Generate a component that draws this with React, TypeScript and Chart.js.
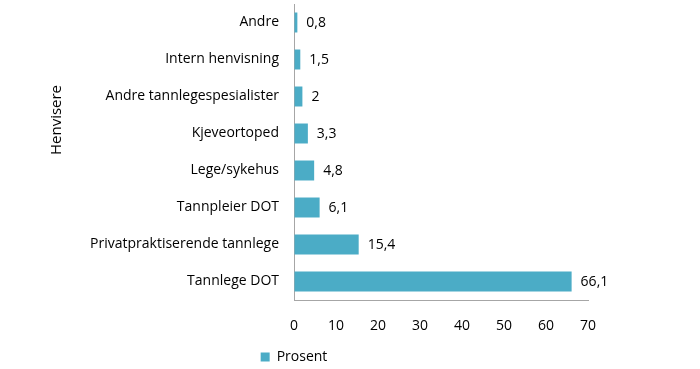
import React, { useEffect, useRef } from "react";
import { Chart, registerables } from "chart.js";

Chart.register(...registerables);

const categories = [
  "Andre",
  "Intern henvisning",
  "Andre tannlegespesialister",
  "Kjeveortoped",
  "Lege/sykehus",
  "Tannpleier DOT",
  "Privatpraktiserende tannlege",
  "Tannlege DOT",
];
const prosent = [0.8, 1.5, 2, 3.3, 4.8, 6.1, 15.4, 66.1];
const seriesName = "Prosent";
const axisTitle = "Henvisere";

const FONT = "'Open Sans', sans-serif";
const FS = 14;
const BAR = "#4BACC6";
const AXIS = "#A6A6A6";

const extras = {
  id: "extras",
  afterDatasetsDraw(chart: any) {
    const ctx = chart.ctx;
    const meta = chart.getDatasetMeta(0);
    ctx.save();
    ctx.font = `${FS}px ${FONT}`;
    ctx.fillStyle = "#000";
    ctx.textAlign = "left";
    ctx.textBaseline = "middle";
    meta.data.forEach((el: any, i: number) => {
      const v = chart.data.datasets[0].data[i];
      ctx.fillText(String(v).replace(".", ","), el.x + 9, el.y + 1);
    });
    ctx.translate(57, 120);
    ctx.rotate(-Math.PI / 2);
    ctx.textAlign = "center";
    ctx.font = `15px ${FONT}`;
    ctx.fillText(axisTitle, 0, 0);
    ctx.restore();
  },
};

export default function App() {
  const ref = useRef<HTMLCanvasElement>(null);
  useEffect(() => {
    if (!ref.current) return;
    const chart = new Chart(ref.current, {
      type: "bar",
      data: {
        labels: categories,
        datasets: [
          {
            label: seriesName,
            data: prosent,
            backgroundColor: BAR,
            borderWidth: 0,
            categoryPercentage: 1,
            barPercentage: 0.54,
          },
        ],
      },
      options: {
        indexAxis: "y",
        animation: false,
        responsive: false,
        layout: { padding: { top: 4, right: 112, left: 0, bottom: -5 } },
        plugins: {
          tooltip: { enabled: false },
          legend: {
            position: "bottom",
            labels: {
              font: { family: FONT, size: FS },
              color: "#000",
              boxWidth: 9,
              boxHeight: 9,
              padding: 0,
            },
          },
        },
        scales: {
          x: {
            min: 0,
            max: 70,
            ticks: {
              stepSize: 10,
              font: { family: FONT, size: FS },
              color: "#000",
              padding: 18,
            },
            grid: { display: true, drawOnChartArea: false, drawTicks: false },
            border: { display: true, color: AXIS, width: 1 },
            afterFit: (s: any) => {
              s.height = 50;
              s.paddingLeft = 0;
              s.paddingRight = 0;
            },
          },
          y: {
            ticks: {
              font: { family: FONT, size: FS },
              color: "#000",
              padding: 15,
              autoSkip: false,
            },
            grid: { display: true, drawOnChartArea: false, drawTicks: false },
            border: { display: true, color: AXIS, width: 1 },
            afterFit: (s: any) => {
              s.width = 294;
              s.paddingTop = 0;
              s.paddingBottom = 0;
            },
          },
        },
      },
      plugins: [extras],
    });
    return () => chart.destroy();
  }, []);
  return (
    <div style={{ position: "fixed", left: 0, top: 0, width: 700, height: 369, background: "#fff" }}>
      <canvas ref={ref} width={700} height={369} style={{ display: "block", width: 700, height: 369 }} />
    </div>
  );
}
